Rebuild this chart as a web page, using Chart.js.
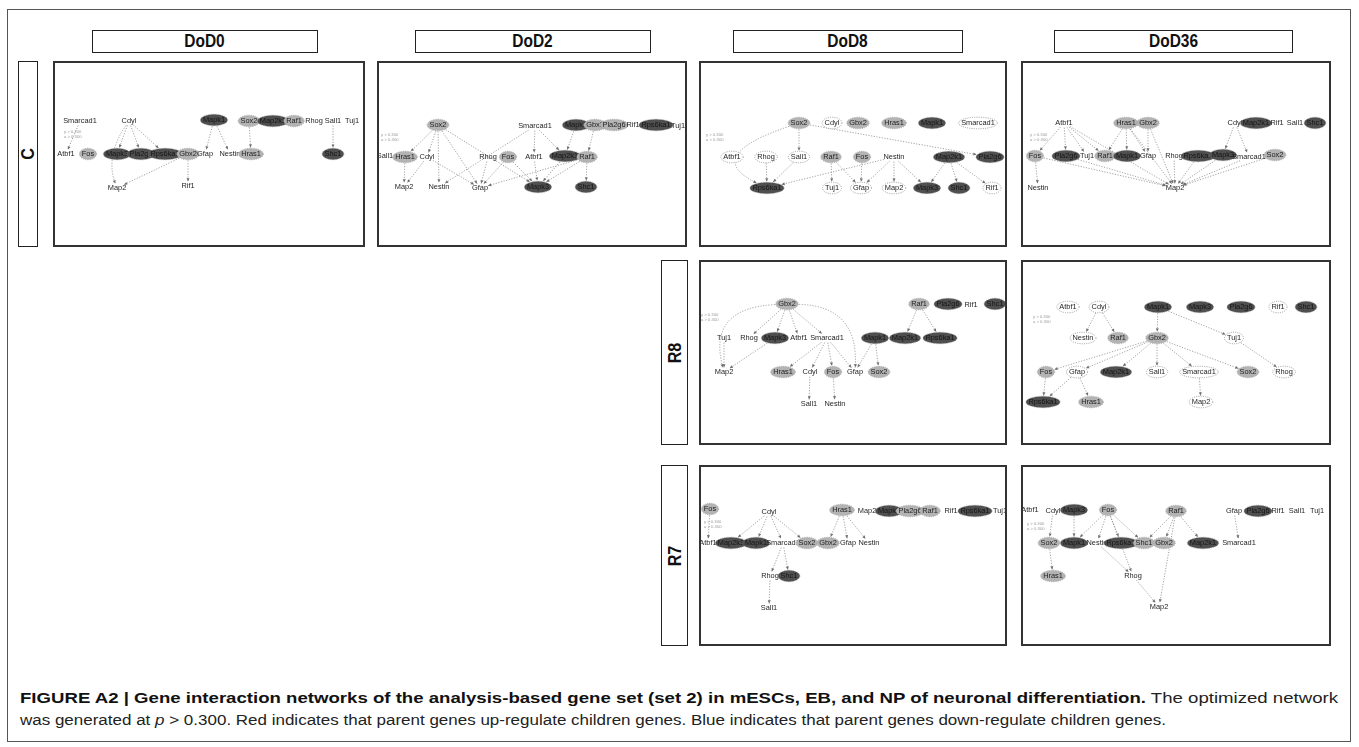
<!DOCTYPE html>
<html>
<head>
<meta charset="utf-8">
<script src="https://cdn.jsdelivr.net/npm/chart.js@4.4.0/dist/chart.umd.min.js"></script>
<style>
  body { margin: 0; background: #fff; width: 1359px; height: 747px; position: relative; overflow: hidden;
         font-family: "Liberation Sans", Arial, sans-serif; }
  .frame { position: absolute; left: 7px; top: 9px; width: 1344px; height: 733px; border: 1px solid #555; box-sizing: border-box; }
  .head { position: absolute; top: 30px; height: 23px; border: 1px solid #222; box-sizing: border-box; text-align: center;
          line-height: 21px; color: #111; }
  .head span { display: inline-block; font: bold 18px "Liberation Sans", sans-serif; transform: scaleX(0.86); }
  .row { position: absolute; border: 1px solid #222; box-sizing: border-box; }
  .row span { position: absolute; left: 50%; top: 50%; transform: translate(-50%, -50%) rotate(-90deg) scaleX(0.9);
              font: bold 18px "Liberation Sans", sans-serif; white-space: nowrap; color: #111; }
  canvas { position: absolute; }
  .pborder { position: absolute; border: 2px solid #333; box-sizing: border-box; }
  .cap { position: absolute; left: 20px; font-size: 15.5px; white-space: nowrap; transform-origin: 0 0; color: #222;
         font-family: "Liberation Sans Narrow", "Liberation Sans", Arial, sans-serif; }
  .cap b { color: #111; }
</style>
</head>
<body>
<div class="frame"></div>

<script>
// gene nodes: [name, x, y, kind]  kind: t = plain label, l = light, d = dark, w = open
const nodesC0 = [
  ["Smarcad1", 27, 60, "t"], ["Cdyl", 76, 60, "t"], ["Mapk1", 161, 59, "d"], ["Sox2", 196, 60, "l"],
  ["Map2k1", 220, 60, "d"], ["Raf1", 241, 60, "l"], ["Rhog", 261, 60, "t"], ["Sall1", 280, 60, "t"], ["Tuj1", 299, 60, "t"],
  ["Atbf1", 13, 93, "t"], ["Fos", 35, 93, "l"], ["Mapk3", 64, 93, "d"], ["Pla2g6", 88, 93, "d"], ["Rps6ka1", 112, 93, "d"],
  ["Gbx2", 135, 93, "l"], ["Gfap", 152, 93, "t"], ["Nestin", 177, 93, "t"], ["Hras1", 198, 93, "l"], ["Shc1", 280, 93, "d"],
  ["Map2", 64, 127, "t"], ["Rif1", 135, 125, "t"]
];
const edgesC0 = [
  ["Smarcad1", "Atbf1"], ["Cdyl", "Map2", 52, 95], ["Cdyl", "Mapk3"], ["Cdyl", "Pla2g6"], ["Cdyl", "Rps6ka1"],
  ["Gbx2", "Map2"], ["Gbx2", "Rif1"], ["Mapk1", "Gfap"], ["Mapk1", "Nestin"], ["Sox2", "Hras1"], ["Sall1", "Shc1"]
];

const nodesC2 = [
  ["Sox2", 61, 64, "l"], ["Smarcad1", 158, 65, "t"], ["Mapk1", 199, 64, "d"], ["Gbx2", 218, 64, "l"], ["Pla2g6", 237, 64, "l"],
  ["Rif1", 256, 64, "t"], ["Rps6ka1", 279, 64, "d"], ["Tuj1", 301, 65, "t"],
  ["Sall1", 8, 95, "t"], ["Hras1", 28, 96, "l"], ["Cdyl", 50, 96, "t"], ["Rhog", 111, 96, "t"], ["Fos", 131, 96, "l"],
  ["Atbf1", 157, 96, "t"], ["Map2k1", 188, 95, "d"], ["Raf1", 210, 96, "l"],
  ["Map2", 27, 126, "t"], ["Nestin", 62, 126, "t"], ["Gfap", 103, 127, "t"], ["Mapk3", 161, 126, "d"], ["Shc1", 209, 126, "d"]
];
const edgesC2 = [
  ["Sox2", "Hras1"], ["Sox2", "Cdyl"], ["Sox2", "Nestin"], ["Sox2", "Gfap"], ["Sox2", "Mapk3"],
  ["Hras1", "Map2"], ["Cdyl", "Map2"], ["Cdyl", "Gfap"], ["Smarcad1", "Nestin"], ["Smarcad1", "Atbf1"],
  ["Smarcad1", "Map2k1"], ["Rhog", "Gfap"], ["Fos", "Gfap"], ["Fos", "Mapk3"], ["Atbf1", "Mapk3"],
  ["Map2k1", "Mapk3"], ["Raf1", "Mapk3"], ["Mapk1", "Map2k1"], ["Gbx2", "Raf1"], ["Raf1", "Shc1"], ["Raf1", "Gfap"]
];

const nodesC8 = [
  ["Sox2", 100, 62, "l"], ["Cdyl", 133, 62, "w"], ["Gbx2", 159, 62, "l"], ["Hras1", 195, 62, "l"], ["Mapk1", 233, 62, "d"],
  ["Smarcad1", 279, 62, "w"],
  ["Atbf1", 33, 96, "w"], ["Rhog", 67, 96, "w"], ["Sall1", 100, 96, "w"], ["Raf1", 132, 96, "l"], ["Fos", 163, 96, "l"],
  ["Nestin", 195, 96, "t"], ["Map2k1", 250, 96, "d"], ["Pla2g6", 291, 96, "d"],
  ["Rps6ka1", 68, 127, "d"], ["Tuj1", 133, 127, "w"], ["Gfap", 162, 127, "w"], ["Map2", 195, 127, "w"],
  ["Mapk3", 228, 127, "d"], ["Shc1", 260, 127, "d"], ["Rif1", 293, 127, "w"]
];
const edgesC8 = [
  ["Sox2", "Sall1"], ["Sox2", "Rps6ka1", 2, 95], ["Sox2", "Pla2g6"], ["Rhog", "Rps6ka1"], ["Sall1", "Rps6ka1"],
  ["Nestin", "Rps6ka1"], ["Raf1", "Tuj1"], ["Raf1", "Gfap"], ["Fos", "Gfap"], ["Nestin", "Gfap"], ["Nestin", "Map2"],
  ["Nestin", "Mapk3"], ["Map2k1", "Mapk3"], ["Map2k1", "Shc1"], ["Map2k1", "Rif1"]
];

const nodesC36 = [
  ["Atbf1", 43, 62, "t"], ["Hras1", 105, 62, "l"], ["Gbx2", 127, 62, "l"], ["Cdyl", 214, 62, "t"], ["Map2k1", 235, 62, "d"],
  ["Rif1", 256, 62, "t"], ["Sall1", 274, 62, "t"], ["Shc1", 294, 62, "d"],
  ["Fos", 14, 95, "l"], ["Pla2g6", 45, 95, "d"], ["Tuj1", 66, 95, "t"], ["Raf1", 84, 95, "l"], ["Mapk1", 106, 95, "d"],
  ["Gfap", 127, 95, "t"], ["Rhog", 153, 95, "t"], ["Rps6ka1", 177, 95, "d"], ["Mapk3", 202, 94, "d"],
  ["Smarcad1", 228, 96, "t"], ["Sox2", 254, 94, "l"],
  ["Nestin", 17, 127, "t"], ["Map2", 154, 127, "t"]
];
const edgesC36 = [
  ["Atbf1", "Fos"], ["Atbf1", "Pla2g6"], ["Atbf1", "Tuj1"], ["Atbf1", "Raf1"], ["Atbf1", "Map2"],
  ["Hras1", "Raf1"], ["Hras1", "Mapk1"], ["Hras1", "Gfap"], ["Hras1", "Map2"], ["Gbx2", "Gfap"], ["Gbx2", "Map2"],
  ["Fos", "Nestin"], ["Fos", "Map2"], ["Pla2g6", "Map2"], ["Cdyl", "Mapk3"], ["Cdyl", "Smarcad1"],
  ["Rhog", "Map2"], ["Rps6ka1", "Map2"], ["Mapk3", "Map2"], ["Smarcad1", "Map2"], ["Sox2", "Map2"]
];

const nodesR8_8 = [
  ["Gbx2", 88, 44, "l"], ["Raf1", 220, 44, "l"], ["Pla2g6", 249, 44, "d"], ["Rif1", 272, 45, "t"], ["Shc1", 296, 44, "d"],
  ["Tuj1", 25, 78, "t"], ["Rhog", 50, 78, "t"], ["Mapk3", 76, 78, "d"], ["Atbf1", 100, 78, "t"], ["Smarcad1", 128, 78, "t"],
  ["Mapk1", 176, 78, "d"], ["Map2k1", 206, 78, "d"], ["Rps6ka1", 241, 78, "d"],
  ["Map2", 25, 112, "t"], ["Hras1", 84, 112, "l"], ["Cdyl", 111, 112, "t"], ["Fos", 134, 112, "l"], ["Gfap", 156, 112, "t"],
  ["Sox2", 180, 112, "l"],
  ["Sall1", 110, 144, "t"], ["Nestin", 136, 144, "t"]
];
const edgesR8_8 = [
  ["Gbx2", "Map2", 8, 48], ["Gbx2", "Rhog"], ["Gbx2", "Mapk3"], ["Gbx2", "Atbf1"], ["Gbx2", "Smarcad1"],
  ["Gbx2", "Gfap", 160, 46], ["Mapk3", "Map2"], ["Tuj1", "Map2"], ["Smarcad1", "Hras1"], ["Smarcad1", "Cdyl"],
  ["Smarcad1", "Fos"], ["Smarcad1", "Gfap"], ["Cdyl", "Sall1"], ["Fos", "Nestin"], ["Mapk1", "Gfap"], ["Mapk1", "Sox2"],
  ["Raf1", "Map2k1"], ["Raf1", "Rps6ka1"]
];

const nodesR8_36 = [
  ["Atbf1", 47, 47, "w"], ["Cdyl", 78, 47, "w"], ["Mapk1", 137, 47, "d"], ["Mapk3", 179, 47, "d"], ["Pla2g6", 220, 47, "d"],
  ["Rif1", 257, 47, "w"], ["Shc1", 285, 47, "d"],
  ["Nestin", 62, 78, "w"], ["Raf1", 97, 78, "l"], ["Gbx2", 136, 78, "l"], ["Tuj1", 213, 78, "w"],
  ["Fos", 25, 112, "l"], ["Gfap", 56, 112, "w"], ["Map2k1", 95, 112, "d"], ["Sall1", 136, 112, "w"],
  ["Smarcad1", 178, 112, "w"], ["Sox2", 227, 112, "l"], ["Rhog", 263, 112, "w"],
  ["Rps6ka1", 22, 142, "d"], ["Hras1", 70, 142, "l"], ["Map2", 180, 142, "w"]
];
const edgesR8_36 = [
  ["Cdyl", "Nestin"], ["Cdyl", "Raf1"], ["Mapk1", "Gbx2"], ["Mapk1", "Tuj1"], ["Tuj1", "Rhog"], ["Gbx2", "Fos"],
  ["Gbx2", "Gfap"], ["Gbx2", "Map2k1"], ["Gbx2", "Sall1"], ["Gbx2", "Smarcad1"], ["Gbx2", "Sox2"],
  ["Fos", "Rps6ka1"], ["Gfap", "Rps6ka1"], ["Gfap", "Hras1"], ["Smarcad1", "Map2"]
];

const nodesR7_8 = [
  ["Fos", 11, 44, "l"], ["Cdyl", 70, 47, "t"], ["Hras1", 143, 45, "l"], ["Map2", 168, 46, "t"], ["Mapk3", 190, 46, "d"],
  ["Pla2g6", 211, 46, "l"], ["Raf1", 231, 46, "l"], ["Rif1", 252, 46, "t"], ["Rps6ka1", 276, 46, "d"], ["Tuj1", 301, 46, "t"],
  ["Atbf1", 9, 78, "t"], ["Map2k1", 32, 78, "d"], ["Mapk1", 57, 78, "d"], ["Smarcad1", 84, 78, "t"], ["Sox2", 108, 78, "l"],
  ["Gbx2", 129, 78, "l"], ["Gfap", 149, 78, "t"], ["Nestin", 170, 78, "t"],
  ["Rhog", 71, 111, "t"], ["Shc1", 90, 111, "d"], ["Sall1", 70, 143, "t"]
];
const edgesR7_8 = [
  ["Fos", "Atbf1"], ["Cdyl", "Map2k1"], ["Cdyl", "Mapk1"], ["Cdyl", "Smarcad1"], ["Cdyl", "Sox2"],
  ["Smarcad1", "Rhog"], ["Smarcad1", "Shc1"], ["Rhog", "Sall1"], ["Hras1", "Gbx2"], ["Hras1", "Gfap"], ["Hras1", "Nestin"]
];

const nodesR7_36 = [
  ["Atbf1", 9, 45, "t"], ["Cdyl", 32, 46, "t"], ["Mapk3", 53, 45, "d"], ["Fos", 87, 45, "l"], ["Raf1", 155, 46, "l"],
  ["Gfap", 213, 46, "t"], ["Pla2g6", 237, 46, "d"], ["Rif1", 257, 46, "t"], ["Sall1", 276, 46, "t"], ["Tuj1", 296, 46, "t"],
  ["Sox2", 28, 78, "l"], ["Mapk1", 53, 78, "d"], ["Nestin", 76, 78, "t"], ["Rps6ka1", 100, 78, "d"], ["Shc1", 123, 78, "l"],
  ["Gbx2", 143, 78, "l"], ["Map2k1", 182, 78, "d"], ["Smarcad1", 218, 78, "t"],
  ["Hras1", 32, 111, "l"], ["Rhog", 112, 111, "t"], ["Map2", 138, 142, "t"]
];
const edgesR7_36 = [
  ["Cdyl", "Sox2"], ["Mapk3", "Mapk1"], ["Fos", "Mapk1"], ["Fos", "Nestin"], ["Fos", "Rps6ka1"], ["Fos", "Shc1"],
  ["Fos", "Rhog"], ["Raf1", "Shc1"], ["Raf1", "Gbx2"], ["Raf1", "Map2k1"], ["Raf1", "Map2"], ["Sox2", "Hras1"],
  ["Nestin", "Rhog"], ["Rhog", "Map2"], ["Gfap", "Smarcad1"]
];

const stages = ["DoD0", "DoD2", "DoD8", "DoD36"];
const rows = ["C", "R8", "R7"];
const threshold = "0.300";

// ---- layout ----
const heads = [[92, 226], [415, 236], [733, 230], [1054, 239]];
const rowBoxes = [[18, 61, 20, 186], [661, 260, 27, 185], [661, 465, 27, 181]];
const panels = [
  { nodes: nodesC0, edges: edgesC0, key: [17, 74], box: [53, 61, 312, 186] },
  { nodes: nodesC2, edges: edgesC2, key: [10, 77], box: [377, 61, 310, 186] },
  { nodes: nodesC8, edges: edgesC8, key: [13, 77], box: [699, 61, 308, 186] },
  { nodes: nodesC36, edges: edgesC36, key: [15, 77], box: [1021, 61, 310, 186] },
  { nodes: nodesR8_8, edges: edgesR8_8, key: [8, 58], box: [699, 260, 308, 185] },
  { nodes: nodesR8_36, edges: edgesR8_36, key: [18, 60], box: [1021, 260, 310, 185] },
  { nodes: nodesR7_8, edges: edgesR7_8, key: [11, 60], box: [699, 465, 308, 181] },
  { nodes: nodesR7_36, edges: edgesR7_36, key: [12, 62], box: [1021, 465, 310, 181] }
];

stages.forEach((s, i) => {
  const d = document.createElement("div");
  d.className = "head";
  d.style.left = heads[i][0] + "px";
  d.style.width = heads[i][1] + "px";
  d.innerHTML = "<span>" + s + "</span>";
  document.body.appendChild(d);
});
rows.forEach((r, i) => {
  const [l, t, w, h] = rowBoxes[i];
  const d = document.createElement("div");
  d.className = "row";
  Object.assign(d.style, { left: l + "px", top: t + "px", width: w + "px", height: h + "px" });
  d.innerHTML = "<span>" + r + "</span>";
  document.body.appendChild(d);
});

const FONT = "7.4px 'Liberation Sans', Arial, sans-serif";
const FILL = { d: "#4f4f4f", l: "#b3b3b3", w: "#ffffff", t: null };

function boundary(n, dx, dy) {
  const L = Math.hypot(dx, dy) || 1;
  const ux = dx / L, uy = dy / L;
  const r = 1 / Math.sqrt((ux / n.rx) ** 2 + (uy / n.ry) ** 2);
  return { x: n.x + ux * (r + 0.6), y: n.y + uy * (r + 0.6) };
}

const netPlugin = {
  id: "net",
  afterDatasetsDraw(chart, args, opts) {
    const ctx = chart.ctx;
    const meta = chart.getDatasetMeta(0);
    const xs = chart.scales.x, ys = chart.scales.y;
    ctx.save();
    ctx.font = FONT;
    const pos = {};
    opts.nodes.forEach((n, i) => {
      const p = meta.data[i];
      const w = ctx.measureText(n[0]).width;
      const plain = n[3] === "t";
      pos[n[0]] = { x: p.x, y: p.y, rx: w / 2 + (plain ? 1 : 2.5), ry: plain ? 4 : 5.8, kind: n[3] };
    });

    // small threshold key
    ctx.font = "4.2px 'Liberation Sans', Arial, sans-serif";
    ctx.fillStyle = "#9a9a9a";
    ctx.textBaseline = "middle";
    const kx = xs.getPixelForValue(opts.key[0]), ky = ys.getPixelForValue(opts.key[1]);
    ctx.fillText("y > " + threshold, kx - 6, ky - 3);
    ctx.fillText("a > " + threshold, kx - 6, ky + 2);

    // edges
    opts.edges.forEach(e => {
      const a = pos[e[0]], b = pos[e[1]];
      if (!a || !b) return;
      const bent = e.length > 2;
      const cx = bent ? xs.getPixelForValue(e[2]) : null;
      const cy = bent ? ys.getPixelForValue(e[3]) : null;
      const s = bent ? boundary(a, cx - a.x, cy - a.y) : boundary(a, b.x - a.x, b.y - a.y);
      const t = bent ? boundary(b, cx - b.x, cy - b.y) : boundary(b, a.x - b.x, a.y - b.y);
      ctx.strokeStyle = "#8c8c8c";
      ctx.lineWidth = 0.8;
      ctx.setLineDash([1.2, 1.5]);
      ctx.beginPath();
      ctx.moveTo(s.x, s.y);
      if (bent) ctx.quadraticCurveTo(cx, cy, t.x, t.y); else ctx.lineTo(t.x, t.y);
      ctx.stroke();
      ctx.setLineDash([]);
      const fx = bent ? cx : s.x, fy = bent ? cy : s.y;
      const ang = Math.atan2(t.y - fy, t.x - fx);
      ctx.fillStyle = "#6e6e6e";
      ctx.beginPath();
      ctx.moveTo(t.x, t.y);
      ctx.lineTo(t.x - 3.2 * Math.cos(ang) + 1.5 * Math.sin(ang), t.y - 3.2 * Math.sin(ang) - 1.5 * Math.cos(ang));
      ctx.lineTo(t.x - 3.2 * Math.cos(ang) - 1.5 * Math.sin(ang), t.y - 3.2 * Math.sin(ang) + 1.5 * Math.cos(ang));
      ctx.closePath();
      ctx.fill();
    });

    // nodes
    ctx.font = FONT;
    ctx.textAlign = "center";
    ctx.textBaseline = "middle";
    opts.nodes.forEach(n => {
      const p = pos[n[0]];
      if (FILL[p.kind]) {
        ctx.beginPath();
        ctx.ellipse(p.x, p.y, p.rx, p.ry, 0, 0, Math.PI * 2);
        ctx.fillStyle = FILL[p.kind];
        ctx.fill();
        ctx.strokeStyle = p.kind === "w" ? "#7a7a7a" : "#9a9a9a";
        ctx.lineWidth = 0.7;
        ctx.setLineDash([1, 1.2]);
        ctx.stroke();
        ctx.setLineDash([]);
      }
      ctx.fillStyle = p.kind === "d" ? "#151515" : "#1e1e1e";
      ctx.fillText(n[0], p.x, p.y + 0.3);
    });
    ctx.restore();
  }
};

panels.forEach(pn => {
  const [l, t, w, h] = pn.box;
  const cv = document.createElement("canvas");
  cv.width = w; cv.height = h;
  Object.assign(cv.style, { left: l + "px", top: t + "px", width: w + "px", height: h + "px" });
  document.body.appendChild(cv);
  const bd = document.createElement("div");
  bd.className = "pborder";
  Object.assign(bd.style, { left: l + "px", top: t + "px", width: w + "px", height: h + "px" });
  document.body.appendChild(bd);

  new Chart(cv.getContext("2d"), {
    type: "scatter",
    data: {
      labels: pn.nodes.map(n => n[0]),
      datasets: [{ data: pn.nodes.map(n => ({ x: n[1], y: n[2] })), pointRadius: 0, pointHoverRadius: 0 }]
    },
    options: {
      responsive: false,
      animation: false,
      events: [],
      layout: { padding: 0 },
      scales: {
        x: { type: "linear", min: 0, max: w, display: false },
        y: { type: "linear", min: 0, max: h, reverse: true, display: false }
      },
      plugins: {
        legend: { display: false },
        tooltip: { enabled: false },
        net: { nodes: pn.nodes, edges: pn.edges, key: pn.key }
      }
    },
    plugins: [netPlugin]
  });
});
</script>

<div class="cap" id="cap1" style="top:689px"><b>FIGURE A2 | Gene interaction networks of the analysis-based gene set (set 2) in mESCs, EB, and NP of neuronal differentiation.</b> The optimized network</div>
<div class="cap" id="cap2" style="top:711px">was generated at <i>p</i> &gt; 0.300. Red indicates that parent genes up-regulate children genes. Blue indicates that parent genes down-regulate children genes.</div>
<script>
  // squeeze the caption lines to the width they take in the figure
  [["cap1", 1318], ["cap2", 1146]].forEach(([id, target]) => {
    const el = document.getElementById(id);
    const w = el.getBoundingClientRect().width;
    el.style.transform = "scaleX(" + (target / w) + ")";
  });
</script>
</body>
</html>
